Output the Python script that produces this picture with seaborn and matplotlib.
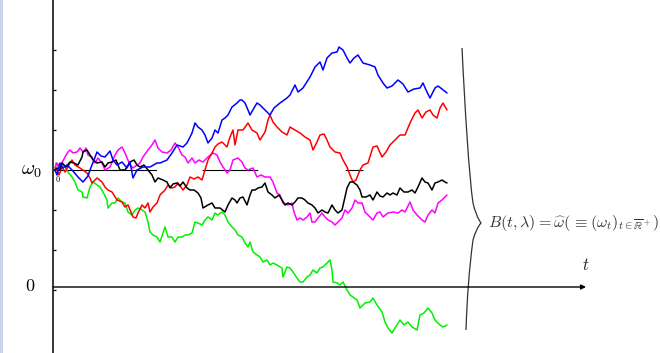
import matplotlib
matplotlib.use("Agg")
import matplotlib.pyplot as plt
from matplotlib.path import Path
from matplotlib.patches import PathPatch, Rectangle
import seaborn as sns
import pandas as pd

# ---------------- data (time steps, value in chart units; 0 = axis, omega0 = 117) ----------------
OMEGA0 = 117
TICK_VALUES = [-3, 37, 77, 117, 157, 197, 237]

blue_t = [0,2,5,8,12,17,23,28,33,35,39,42,46,50,55,58,62,67,72,75,78,82,88,95,102,105,112,117,122,128,
          132,137,140,143,147,150,153,157,160,163,167,170,173,177,182,185,187,190,193,195,199,202,205,210,215,219,225,232,235,240,
          243,248,255,260,265,268,272,277,282,284,288,292,295,299,303,308,315,320,323,328,332,337,343,348,353,359,365,368,371,375,
          380,383,387,392]
blue_w = [117,112,124,119,122,117,110,105,111,117,127,135,131,130,136,127,122,125,119,125,109,117,120,120,124,124,127,134,142,140,
          144,154,164,160,157,152,144,149,157,154,167,169,172,180,184,187,187,184,177,172,179,184,182,177,172,179,184,189,192,202,
          195,199,210,220,225,217,229,234,235,240,237,229,224,229,232,224,222,220,212,204,199,201,207,203,195,198,199,204,197,189,
          199,201,198,194]

red_t = [0,2,4,7,10,15,17,20,25,28,32,35,37,42,47,50,53,57,62,67,70,73,78,81,83,87,90,93,95,98,
         102,105,110,113,117,120,123,128,132,135,139,143,147,150,153,157,160,163,167,172,175,178,180,183,188,193,197,202,205,210,
         213,215,218,222,227,232,235,240,245,250,255,258,262,265,269,272,275,280,285,288,292,295,298,301,305,308,313,318,322,327,
         331,335,340,345,350,355,360,363,367,371,375,378,382,385,388,392]
red_w = [117,117,112,120,115,124,127,122,119,117,114,109,104,109,105,100,97,95,87,85,80,82,70,69,74,82,79,84,75,80,
         84,92,97,102,99,100,104,97,102,110,108,110,107,117,127,134,140,143,145,140,150,157,142,157,157,164,157,154,147,155,
         167,172,165,160,155,152,160,157,154,150,147,137,145,152,153,147,140,135,134,127,120,112,105,107,117,122,124,140,141,130,
         135,142,147,152,152,164,174,177,169,175,177,172,169,179,184,177]

magenta_t = [0,2,5,10,13,15,18,22,25,28,31,33,37,40,43,47,50,55,60,63,67,70,75,78,82,85,88,93,97,100,
             103,107,112,116,120,123,127,130,133,137,140,144,148,153,158,162,165,168,172,175,178,183,187,190,193,198,202,206,210,215,
             218,222,225,228,233,237,239,242,245,248,252,255,257,260,263,267,270,273,277,280,283,287,290,293,297,300,303,307,310,313,
             318,322,325,328,333,338,343,347,350,355,358,362,367,370,373,377,380,383,387,390,392]
magenta_w = [119,124,120,130,135,137,134,135,139,135,139,132,130,124,129,124,117,120,132,137,140,134,122,119,122,124,130,137,142,147,
             139,135,134,137,144,140,132,130,124,129,124,127,125,130,134,132,125,120,114,117,127,129,125,119,117,119,110,112,110,110,
             105,94,92,84,82,84,75,67,69,67,70,74,65,65,69,74,70,67,65,62,65,69,77,74,79,87,84,84,75,72,
             67,74,75,70,74,75,74,77,75,85,77,72,67,65,72,77,74,84,87,90,92]

black_t = [0,2,5,7,11,15,19,23,27,28,32,35,38,42,47,50,53,57,61,65,70,75,79,82,85,89,93,97,100,103,
           108,112,115,118,122,125,128,132,135,139,143,146,148,153,157,160,165,170,173,177,180,182,185,188,192,195,197,200,203,207,
           210,213,217,220,224,227,230,233,237,240,243,247,250,253,257,260,263,267,270,273,277,280,283,287,290,292,295,298,302,305,
           307,311,315,318,322,325,328,332,335,338,342,345,349,353,357,360,363,367,370,373,377,380,383,387,390,392]
black_w = [117,119,117,124,120,125,124,122,130,135,137,132,127,124,125,120,124,125,127,117,117,125,127,122,120,122,117,112,105,109,
           107,105,99,103,104,101,105,99,97,97,94,89,79,82,84,79,79,75,82,89,87,84,89,90,82,92,97,97,99,100,
           104,95,92,89,92,87,82,84,82,85,89,89,87,84,82,79,74,77,75,74,82,77,74,77,90,99,105,105,102,97,
           90,90,92,87,95,91,90,94,92,94,92,99,95,95,97,94,100,109,105,104,97,104,105,107,105,104]

green_t = [0,1,4,7,10,13,17,20,23,27,28,32,35,38,42,45,48,52,53,57,60,63,67,70,73,77,80,83,87,90,
           93,95,98,102,105,108,110,113,117,120,123,127,130,133,137,140,143,147,150,153,157,160,163,167,170,173,177,180,183,187,
           190,193,195,198,202,205,208,212,215,218,222,227,228,232,235,238,242,245,248,252,255,258,262,265,268,272,275,277,278,282,
           285,288,292,295,298,302,305,310,315,318,322,327,330,333,337,340,345,349,353,357,362,365,369,373,377,380,385,388,392]
green_w = [117,124,119,124,120,115,110,105,97,95,90,89,100,105,102,100,95,87,79,84,84,89,85,84,75,72,77,79,77,75,
           65,55,52,50,45,54,60,50,50,45,50,50,52,52,54,65,64,62,67,70,67,74,72,75,72,65,60,57,52,50,
           44,40,45,35,32,30,25,27,22,24,22,19,10,20,19,15,9,5,5,10,12,17,14,19,20,24,27,17,5,4,
           2,5,-3,-8,-10,-13,-21,-16,-15,-11,-18,-25,-35,-41,-46,-41,-33,-38,-35,-40,-43,-28,-26,-21,-26,-33,-38,-40,-38]

series = [("green", green_t, green_w), ("magenta", magenta_t, magenta_w),
          ("red", red_t, red_w), ("black", black_t, black_w), ("blue", blue_t, blue_w)]

rows = []
for name, ts, ws in series:
    assert len(ts) == len(ws), name
    for t, w in zip(ts, ws):
        rows.append({"path": name, "t": t, "omega": w})
df = pd.DataFrame(rows)

palette = {"blue": "#0000ff", "red": "#ff0000", "magenta": "#ff00ff",
           "black": "#000000", "green": "#00f000"}

# ---------------- figure ----------------
sns.set_theme(style="white")
plt.rcParams["mathtext.fontset"] = "cm"
plt.rcParams["lines.scale_dashes"] = False

fig = plt.figure(figsize=(6.6, 3.53), dpi=100)
ax = fig.add_axes([0, 0, 1, 1])
ax.set_xlim(-55, 605)
ax.set_ylim(-66, 287)

# omega0 reference line (broken / dashed)
ax.plot([0, 308], [OMEGA0, OMEGA0], color="black", lw=0.8,
        dashes=(73, 33, 40, 63, 13, 200), zorder=1)

sns.lineplot(data=df, x="t", y="omega", hue="path", units="path", estimator=None,
             sort=False, palette=palette, legend=False, linewidth=1.1, ax=ax, zorder=3)

# axes styling
for s in ["top", "right", "bottom"]:
    ax.spines[s].set_visible(False)
ax.spines["left"].set_position(("data", -2))
ax.spines["left"].set_color("black")
ax.spines["left"].set_linewidth(1.1)
ax.set_xticks([])
ax.set_yticks(TICK_VALUES)
ax.set_yticklabels([])
ax.tick_params(axis="y", direction="in", length=2.5, width=0.9, color="black", left=True)
ax.set_xlabel("")
ax.set_ylabel("")

# horizontal time axis with arrow
ax.annotate("", xy=(531, 0), xytext=(-2, 0),
            arrowprops=dict(arrowstyle="-|>", color="black", lw=1.0, mutation_scale=7,
                            shrinkA=0, shrinkB=0))

# labels
ax.text(-23, OMEGA0, r"$\omega_0$", fontsize=14.5, ha="center", va="center", color="black")
ax.text(-25, 1, r"$0$", fontsize=13, ha="center", va="center", color="black")
ax.text(3, 108, r"$0$", fontsize=6, ha="center", va="center", color="black", zorder=2)
ax.text(531, 22, r"$t$", fontsize=12, ha="center", va="center", color="#222222")
ax.text(433, 64, r"$B(t,\lambda) = \widehat{\omega}(\,\equiv(\omega_t)_{t\in\overline{\mathbb{R}}^+})$",
        fontsize=11.6, ha="left", va="center", color="#333333")

# curly brace
def px(x, y):
    return (x - 55, 287 - y)

verts = [px(462, 48), px(465, 110), px(469, 175), px(473, 203),
         px(476, 216), px(481, 223),
         px(476, 229), px(473, 240),
         px(469, 270), px(467, 300), px(466, 330)]
codes = [Path.MOVETO, Path.CURVE4, Path.CURVE4, Path.CURVE4,
         Path.CURVE3, Path.CURVE3,
         Path.CURVE3, Path.CURVE3,
         Path.CURVE4, Path.CURVE4, Path.CURVE4]
ax.add_patch(PathPatch(Path(verts, codes), fill=False, edgecolor="#333333", lw=0.9))

# pale left border stripe
fig.patches.append(Rectangle((0, 0), 3 / 660, 1, transform=fig.transFigure,
                             facecolor="#c9d5ef", edgecolor="none"))

fig.savefig("out.png", dpi=100)
